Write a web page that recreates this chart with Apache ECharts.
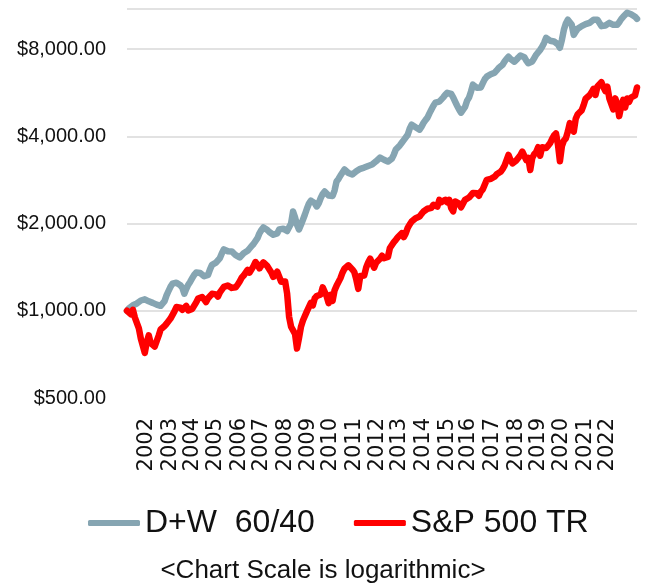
<!DOCTYPE html>
<html>
<head>
<meta charset="utf-8">
<script src="https://cdn.jsdelivr.net/npm/echarts@6/dist/echarts.min.js"></script>
<style>html,body{margin:0;padding:0;background:#fff}#c{width:646px;height:584px}</style>
</head>
<body>
<div id="c"></div>
<script>
// Monthly, Dec 2001 .. Jun 2023
const startYear = 2001, startMonth = 12, monthCount = 259;
const categories = [];
for (let i = 0; i < monthCount; i++) {
  const t = startYear * 12 + (startMonth - 1) + i;
  categories.push(Math.floor(t / 12) + '-' + String(t % 12 + 1).padStart(2, '0'));
}

const xLabelMonths = ['2002-10','2003-10','2004-09','2005-09','2006-09','2007-08','2008-08','2009-08','2010-07','2011-07','2012-07','2013-06','2014-06','2015-06','2016-05','2017-05','2018-05','2019-04','2020-04','2021-04','2022-03'];

const yBase = 500;
const yMax = 11000;
const yTickLabels = ['$500.00', '$1,000.00', '$2,000.00', '$4,000.00', '$8,000.00'];

const dw6040 = [
  1000,
  1020, 1030, 1045, 1040, 1060, 1075, 1085, 1080, 1095, 1085, 1078, 1070,
  1065, 1058, 1050, 1045, 1040, 1036, 1080, 1130, 1170, 1210, 1240, 1254,
  1250, 1235, 1225, 1200, 1145, 1190, 1230, 1260, 1295, 1330, 1355, 1368,
  1350, 1330, 1315, 1304, 1330, 1390, 1440, 1450, 1465, 1469, 1520, 1580,
  1629, 1615, 1605, 1610, 1603, 1580, 1555, 1535, 1528, 1550, 1580, 1603,
  1610, 1640, 1670, 1700, 1722, 1780, 1850, 1900, 1940, 1955, 1900, 1870,
  1864, 1830, 1805, 1850, 1910, 1939, 1920, 1900, 1885, 1879, 2000, 2201,
  2100, 1980, 1908, 1980, 2060, 2149, 2250, 2340, 2400, 2421, 2350, 2291,
  2350, 2450, 2530, 2580, 2540, 2500, 2480, 2490, 2600, 2794, 2850, 2930,
  3000, 3072, 3040, 2990, 2960, 2953, 2990, 3030, 3060, 3090, 3110, 3121,
  3140, 3160, 3180, 3196, 3230, 3280, 3330, 3378, 3360, 3320, 3290, 3272,
  3280, 3350, 3460, 3600, 3657, 3720, 3800, 3880, 3897, 4050, 4250, 4389,
  4389, 4300, 4250, 4219, 4320, 4450, 4550, 4640, 4800, 4950, 5100, 5227,
  5250, 5268, 5350, 5450, 5560, 5650, 5700, 5600, 5450, 5268, 5100, 4950,
  4827, 4880, 5050, 5300, 5438, 5700, 6029, 5960, 5880, 5795, 5900, 6100,
  6300, 6426, 6480, 6550, 6600, 6632, 6750, 6880, 6950, 7064, 7250, 7400,
  7526, 7400, 7300, 7234, 7350, 7480, 7600, 7648, 7500, 7300, 7150, 7064,
  7250, 7450, 7650, 7771, 7950, 8146, 8400, 8748, 8650, 8550, 8477, 8500,
  8450, 8300, 8083, 8600, 9324, 9800, 10100, 10253, 9700, 8958, 9200, 9400,
  9547, 9600, 9700, 9750, 9800, 9855, 9950, 10100, 10200, 10100, 10253, 9600,
  9500, 9650, 9800, 9855, 9800, 9700, 9650, 9700, 9900, 10150, 10337, 10450,
  10674, 10650, 10550, 10510, 10350, 10166
];

const sp500tr = [
  1000,
  993, 973, 1008, 947, 938, 870, 802, 805, 716, 779, 823, 773,
  766, 752, 759, 820, 862, 872, 886, 902, 891, 940, 946, 995,
  1030, 1042, 1025, 1008, 1020, 1039, 1003, 1005, 1015, 1029, 1069, 1103,
  1095, 1116, 1095, 1072, 1105, 1104, 1144, 1131, 1139, 1119, 1158, 1157,
  1209, 1210, 1223, 1238, 1199, 1199, 1206, 1231, 1262, 1301, 1323, 1339,
  1384, 1354, 1367, 1426, 1473, 1446, 1400, 1418, 1469, 1490, 1425, 1412,
  1356, 1309, 1301, 1363, 1377, 1259, 1246, 1262, 1147, 953, 881, 888,
  832, 741, 804, 880, 926, 926, 995, 1029, 1065, 1044, 1105, 1124,
  1107, 1138, 1205, 1223, 1122, 1062, 1136, 1081, 1176, 1219, 1217, 1296,
  1353, 1396, 1395, 1435, 1415, 1389, 1359, 1282, 1190, 1318, 1312, 1323,
  1410, 1468, 1513, 1503, 1408, 1464, 1482, 1512, 1549, 1518, 1522, 1533,
  1647, 1665, 1725, 1757, 1793, 1765, 1853, 1795, 1849, 1931, 1985, 2032,
  2002, 2087, 2102, 2115, 2160, 2201, 2168, 2249, 2214, 2266, 2322, 2312,
  2288, 2414, 2372, 2392, 2416, 2366, 2413, 2261, 2202, 2384, 2385, 2344,
  2275, 2265, 2415, 2421, 2459, 2461, 2549, 2546, 2542, 2493, 2578, 2625,
  2729, 2830, 2829, 2854, 2888, 2901, 2957, 2960, 3016, 3083, 3170, 3202,
  3449, 3315, 3225, 3234, 3304, 3320, 3439, 3544, 3559, 3312, 3371, 3062,
  3368, 3468, 3530, 3670, 3428, 3665, 3712, 3645, 3708, 3784, 3912, 4025,
  4094, 3749, 3281, 3696, 3863, 3935, 4152, 4442, 4268, 4150, 4597, 4767,
  4790, 4915, 5124, 5392, 5421, 5543, 5668, 5833, 5556, 5939, 5890, 6146,
  5912, 5726, 5931, 5410, 5410, 4955, 5407, 5178, 4695, 5069, 5341, 5027,
  5402, 5260, 5444, 5524, 5538, 5896
];

const seriesNames = ['D+W  60/40', 'S&P 500 TR'];
const noteText = '<Chart Scale is logarithmic>';

// log2 scale relative to the $500 axis base
const toLog = v => Math.log2(v / yBase);

const chart = echarts.init(document.getElementById('c'), null, {renderer: 'canvas'});
chart.setOption({
  animation: false,
  grid: {left: 127, right: 9, top: 9, bottom: 186},
  title: {
    text: noteText, left: 'center', top: 553,
    textStyle: {fontFamily: 'Liberation Sans', fontSize: 26, fontWeight: 'normal', color: '#111'}
  },
  legend: {
    left: 83, top: 502, icon: 'roundRect', itemWidth: 52, itemHeight: 6, itemGap: 39,
    textStyle: {fontFamily: 'Liberation Sans', fontSize: 32, color: '#111'},
    data: seriesNames
  },
  xAxis: {
    type: 'category', data: categories, boundaryGap: false,
    axisLine: {show: false}, axisTick: {show: false}, splitLine: {show: false},
    axisLabel: {
      interval: (i, v) => xLabelMonths.includes(v),
      formatter: v => v.slice(0, 4),
      rotate: 90, margin: 20, fontFamily: 'DejaVu Sans', fontSize: 21, color: '#111'
    }
  },
  yAxis: {
    type: 'value', min: 0, max: toLog(yMax), interval: 1,
    axisLine: {show: false}, axisTick: {show: false},
    splitLine: {show: true, showMinLine: false, lineStyle: {color: '#d9d9d9', width: 1.5}},
    axisLabel: {
      showMaxLabel: false, margin: 21, fontFamily: 'Liberation Sans', fontSize: 20, color: '#111',
      formatter: v => {
        const r = Math.round(v);
        return Math.abs(v - r) < 1e-6 && yTickLabels[r] ? yTickLabels[r] : '';
      }
    }
  },
  series: [
    {name: seriesNames[0], type: 'line', data: dw6040.map(toLog), showSymbol: false, symbol: 'none',
     lineStyle: {color: '#86a5b2', width: 6.5, join: 'round', cap: 'round'}, itemStyle: {color: '#86a5b2'}},
    {name: seriesNames[1], type: 'line', data: sp500tr.map(toLog), showSymbol: false, symbol: 'none',
     lineStyle: {color: '#ff0000', width: 6.5, join: 'round', cap: 'round'}, itemStyle: {color: '#ff0000'}}
  ]
});
</script>
</body>
</html>
